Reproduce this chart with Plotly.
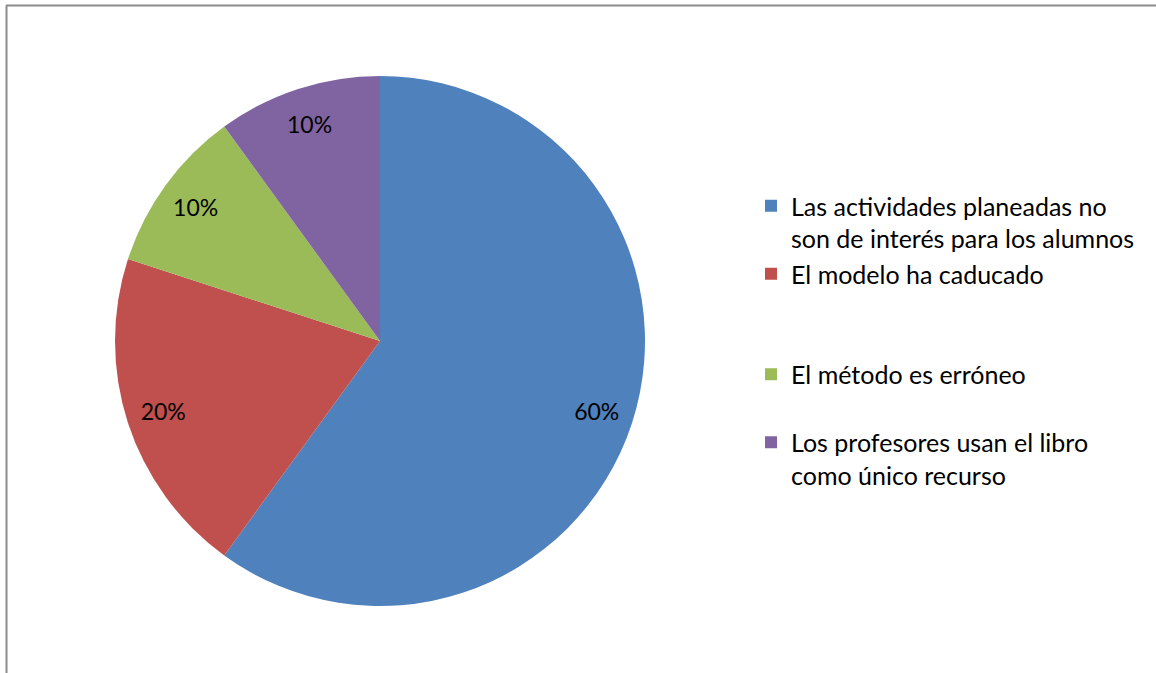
import plotly.graph_objects as go

labels = [
    "Las actividades planeadas no<br>son de interés para los alumnos",
    "El modelo ha caducado<br> <br> ",
    "El método es erróneo<br> ",
    "Los profesores usan el libro<br>como único recurso",
]
values = [60, 20, 10, 10]
colors = ["#4F81BD", "#C0504D", "#9BBB59", "#8064A2"]

W, H = 1156, 673
cx, cy, r = 380, 341, 265
dom = dict(x=[(cx - r) / W, (cx + r) / W], y=[(H - cy - r) / H, (H - cy + r) / H])
FONT = "Lato"

fig = go.Figure()
# filled pie (legend source)
fig.add_trace(go.Pie(
    labels=labels,
    values=values,
    sort=False,
    direction="clockwise",
    rotation=0,
    marker=dict(colors=colors, line=dict(width=0)),
    textinfo="none",
    domain=dom,
    hoverinfo="label+percent",
))
# transparent ring carrying the percentage labels at ~0.86 r
fig.add_trace(go.Pie(
    labels=labels,
    values=values,
    sort=False,
    direction="clockwise",
    rotation=0,
    hole=0.72,
    marker=dict(colors=["rgba(0,0,0,0)"] * len(values), line=dict(width=0)),
    texttemplate="%{percent:.0%}",
    textposition="inside",
    insidetextorientation="horizontal",
    textfont=dict(family=FONT, size=23, color="#000000"),
    domain=dom,
    showlegend=False,
    hoverinfo="skip",
))

fig.update_layout(
    width=W, height=H,
    margin=dict(l=0, r=0, t=0, b=0),
    paper_bgcolor="white",
    showlegend=True,
    legend=dict(
        x=751 / W, y=1 - 183 / H, xanchor="left", yanchor="top",
        font=dict(family=FONT, size=25, color="#000000"),
        valign="top",
        traceorder="normal",
        bgcolor="rgba(0,0,0,0)",
    ),
    shapes=[
        dict(type="line", xref="paper", yref="paper", x0=6 / W, x1=1, y0=1 - 5.5 / H, y1=1 - 5.5 / H,
             line=dict(color="#8c8c8c", width=2)),
        dict(type="line", xref="paper", yref="paper", x0=6.5 / W, x1=6.5 / W, y0=0, y1=1 - 5.5 / H,
             line=dict(color="#8c8c8c", width=2)),
    ],
)

fig.write_html(
    "out.html",
    config={"displayModeBar": False},
    post_script="document.body.style.margin='0';document.body.style.overflow='hidden';",
)
